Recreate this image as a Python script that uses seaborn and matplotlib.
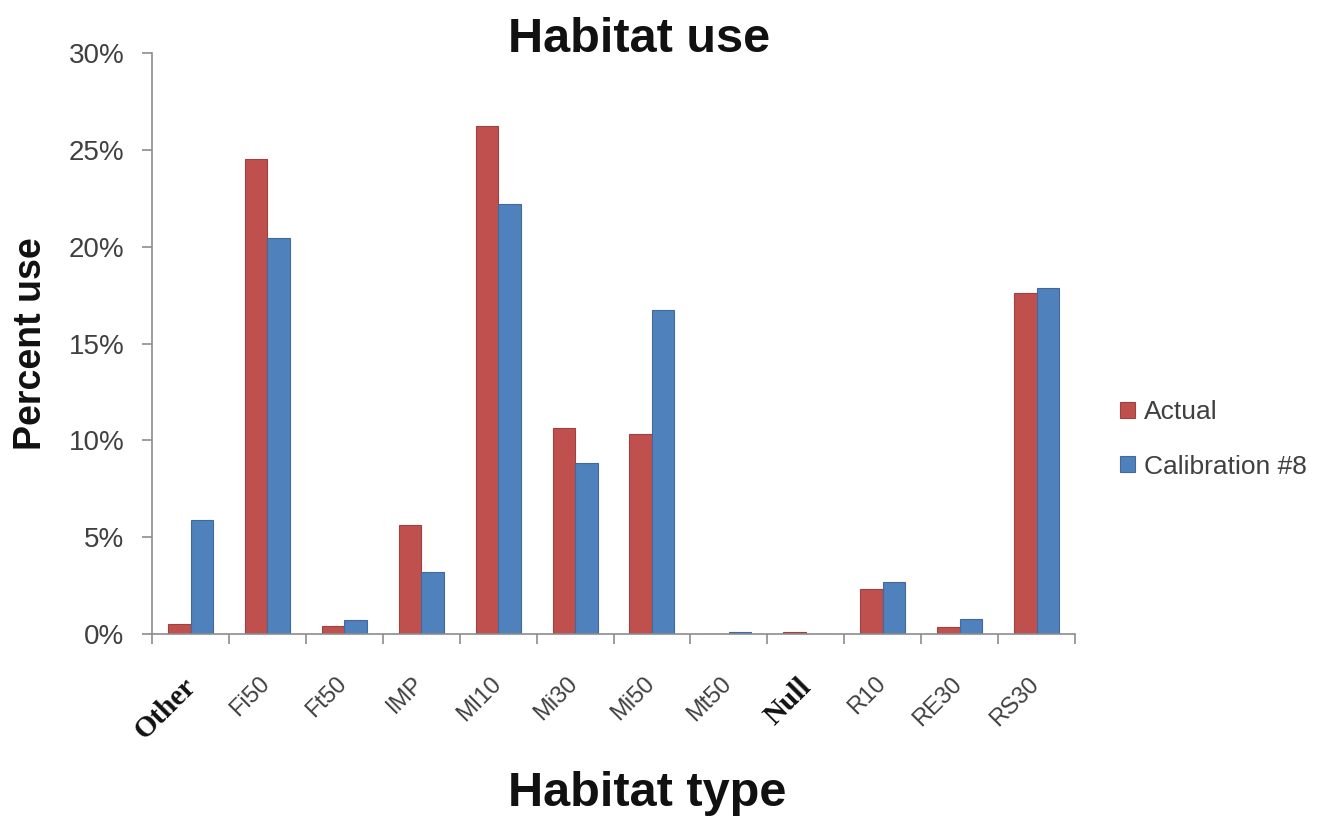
import matplotlib
matplotlib.use("Agg")
import matplotlib.pyplot as plt
import matplotlib.ticker as mticker
import matplotlib.transforms as mtransforms
import numpy as np
import pandas as pd
import seaborn as sns

# Habitat categories and the share of use for each series (fractions)
habitats = ["Other", "Fi50", "Ft50", "IMP", "MI10", "Mi30", "Mi50",
            "Mt50", "Null", "R10", "RE30", "RS30"]
actual = [0.0050, 0.2452, 0.0040, 0.0562, 0.2624, 0.1063, 0.1034,
          0.0000, 0.0008, 0.0230, 0.0035, 0.1760]
calibration = [0.0588, 0.2045, 0.0070, 0.0321, 0.2223, 0.0883, 0.1675,
               0.0008, 0.0000, 0.0266, 0.0079, 0.1787]
series_names = ["Actual", "Calibration #8"]
y_ticks = [0, 0.05, 0.10, 0.15, 0.20, 0.25, 0.30]

df = pd.DataFrame({
    "Habitat": habitats * 2,
    "Series": [series_names[0]] * len(habitats) + [series_names[1]] * len(habitats),
    "Use": actual + calibration,
})

sns.set_theme(style="white")
plt.rcParams["font.family"] = ["Liberation Sans", "DejaVu Sans"]

fig = plt.figure(figsize=(13.28, 8.18), dpi=100)
ax = fig.add_axes([0.1145, 0.225, 0.695, 0.71])

palette = {"Actual": "#C0504D", "Calibration #8": "#4F81BD"}
sns.barplot(data=df, x="Habitat", y="Use", hue="Series", order=habitats,
            hue_order=series_names, palette=palette, width=0.585,
            saturation=1, ax=ax, legend=True)
for patch in ax.patches:
    fc = patch.get_facecolor()
    patch.set_edgecolor(tuple(c * 0.82 for c in fc[:3]) + (1,))
    patch.set_linewidth(0.8)

ax.set_xlim(-0.5, len(habitats) - 0.5)
ax.set_ylim(0, 0.30)
ax.set_yticks(y_ticks)
ax.yaxis.set_major_formatter(mticker.FuncFormatter(lambda v, p: f"{v*100:.0f}%"))

for side in ["top", "right"]:
    ax.spines[side].set_visible(False)
for side in ["left", "bottom"]:
    ax.spines[side].set_color("#8C8C8C")
    ax.spines[side].set_linewidth(1.2)

# Excel-style ticks: y ticks outward, x ticks on category boundaries
ax.tick_params(axis="y", which="major", direction="out", length=7, width=1.2,
               color="#8C8C8C", left=True, labelsize=20, labelcolor="#404040", pad=13)
ax.tick_params(axis="x", which="major", length=0, pad=28)
ax.set_xticks(np.arange(-0.5, len(habitats), 1.0), minor=True)
ax.tick_params(axis="x", which="minor", direction="out", length=7, width=1.2,
               color="#8C8C8C", bottom=True)

serif_labels = {"Other", "Null"}
ax.set_xticks(range(len(habitats)))
ax.set_xticklabels(habitats)
shift_left = mtransforms.ScaledTranslation(-6 / 72, 0, fig.dpi_scale_trans)
for lbl in ax.get_xticklabels():
    lbl.set_rotation(45)
    lbl.set_ha("right")
    lbl.set_rotation_mode("anchor")
    lbl.set_transform(lbl.get_transform() + shift_left)
    if lbl.get_text() in serif_labels:
        lbl.set_family(["Liberation Serif", "DejaVu Serif"])
        lbl.set_fontweight("bold")
        lbl.set_fontsize(21)
        lbl.set_color("#111111")
    else:
        lbl.set_fontsize(17)
        lbl.set_color("#404040")

ax.set_xlabel("")
ax.set_ylabel("Percent use", fontsize=27, fontweight="bold", labelpad=14)
ax.yaxis.label.set_color("#111111")
fig.text(0.481, 0.952, "Habitat use", ha="center", va="center",
         fontsize=35, fontweight="bold", color="#111111")
fig.text(0.487, 0.015, "Habitat type", ha="center", va="baseline",
         fontsize=35, fontweight="bold", color="#111111")

leg = ax.legend(loc="center left", bbox_to_anchor=(1.023, 0.335), frameon=False,
                fontsize=19, handlelength=0.55, handleheight=0.55,
                labelspacing=1.15, handletextpad=0.35)
for t in leg.get_texts():
    t.set_color("#404040")

fig.savefig("out.png", dpi=100)
